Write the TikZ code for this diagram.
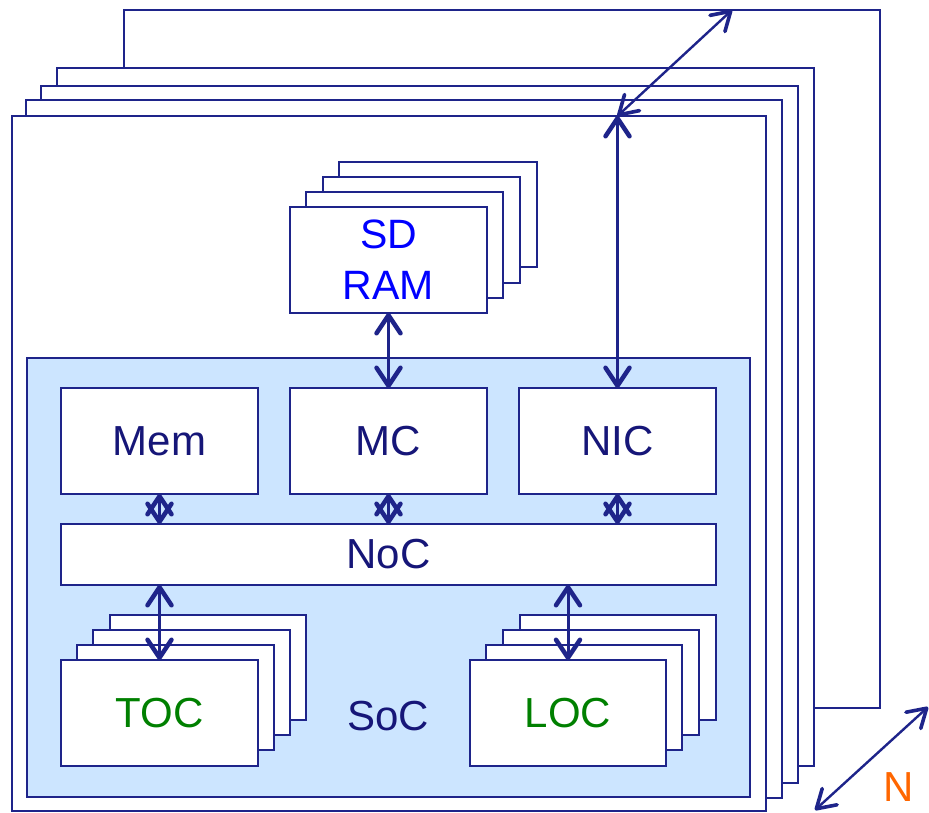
\documentclass[tikz,border=0pt]{standalone}
\usepackage{fontspec}
\setmainfont{Liberation Sans}
\usetikzlibrary{arrows.meta,calc}
\definecolor{lc}{RGB}{30,36,138}
\definecolor{tnavy}{RGB}{22,22,120}
\definecolor{socfill}{RGB}{204,229,255}
\definecolor{tgreen}{RGB}{0,128,0}
\definecolor{tblue}{RGB}{0,0,255}
\definecolor{norange}{RGB}{255,102,0}
\begin{document}
\begin{tikzpicture}[x=1pt,y=-1pt,
  box/.style={draw=lc, line width=2pt, fill=white, inner sep=0pt, outer sep=0pt, anchor=north west,
    font=\fontsize{42}{50}\selectfont, text=tnavy},
  dbl/.style={draw=lc, line width=3pt,
    {Straight Barb[length=18pt,width=24pt,line width=4.5pt,line cap=round,line join=round]}-{Straight Barb[length=18pt,width=24pt,line width=4.5pt,line cap=round,line join=round]}},
  dblthin/.style={draw=lc, line width=2.4pt,
    {Straight Barb[length=18pt,width=22pt,line width=3.6pt,line cap=round,line join=round]}-{Straight Barb[length=18pt,width=22pt,line width=3.6pt,line cap=round,line join=round]}},
  lbl/.style={inner sep=0pt, font=\fontsize{42}{50}\selectfont}
]
\useasboundingbox (0,0) rectangle (929,812);
% board frames
\node[box, minimum width=756pt, minimum height=698pt] (back) at (124,10) {};
\node[box, minimum width=757pt, minimum height=698pt] (f4) at (57,68) {};
\node[box, minimum width=757pt, minimum height=697pt] (f3) at (41,86) {};
\node[box, minimum width=756pt, minimum height=698pt] (f2) at (26,100) {};
\node[box, minimum width=754pt, minimum height=695pt] (f1) at (12,116) {};
% SDRAM stack
\node[box, minimum width=198pt, minimum height=105pt] (sd4) at (339,162) {};
\node[box, minimum width=197pt, minimum height=106pt] (sd3) at (323,177) {};
\node[box, minimum width=197pt, minimum height=106pt] (sd2) at (306,192) {};
\node[box, minimum width=197pt, minimum height=106pt, align=center, text=tblue,
  font=\fontsize{41}{51}\selectfont] (sd1) at (290,207) {SD\\RAM};
% SoC
\node[box, fill=socfill, minimum width=723pt, minimum height=439pt] (soc) at (27,358) {};
\node[lbl, text=tnavy] (soclbl) at (388,716) {SoC};
% components
\node[box, minimum width=197pt, minimum height=106pt] (mem) at (61,388) {Mem};
\node[box, minimum width=197pt, minimum height=106pt] (mc) at (290,388) {MC};
\node[box, minimum width=197pt, minimum height=106pt] (nic) at (519,388) {NIC};
\node[box, minimum width=655pt, minimum height=61pt] (noc) at (61,524) {NoC};
% TOC stack
\node[box, minimum width=196pt, minimum height=105pt] (toc4) at (110,615) {};
\node[box, minimum width=197pt, minimum height=105pt] (toc3) at (93,630) {};
\node[box, minimum width=197pt, minimum height=105pt] (toc2) at (77,645) {};
\node[box, minimum width=197pt, minimum height=106pt, text=tgreen] (toc1) at (61,660) {TOC};
% LOC stack
\node[box, minimum width=196pt, minimum height=105pt] (loc4) at (520,615) {};
\node[box, minimum width=196pt, minimum height=105pt] (loc3) at (503,630) {};
\node[box, minimum width=196pt, minimum height=105pt] (loc2) at (486,645) {};
\node[box, minimum width=196pt, minimum height=106pt, text=tgreen] (loc1) at (470,660) {LOC};
% connectors
\draw[dbl] (sd1.south) -- (mc.north);
\draw[dbl] (mem.south) -- (mem.south |- noc.north);
\draw[dbl] (mc.south) -- (mc.south |- noc.north);
\draw[dbl] (nic.south) -- (nic.south |- noc.north);
\draw[dbl] (noc.south -| toc1.north) -- (toc1.north);
\draw[dbl] (noc.south -| loc1.north) -- (loc1.north);
\coordinate (nictop) at (nic.north |- f1.north);
\draw[dbl] (nic.north) -- (nictop);
\coordinate (topend) at (732,10);
\draw[dblthin] (nictop) -- (topend);
% N direction
\coordinate (na) at (815,810);
\coordinate (nb) at (928,707);
\draw[dblthin] (na) -- (nb);
\node[lbl, text=norange, font=\fontsize{42}{46}\selectfont, text height=30pt, text depth=0pt, anchor=south] (nlbl) at (899,802) {N};
\end{tikzpicture}
\end{document}
